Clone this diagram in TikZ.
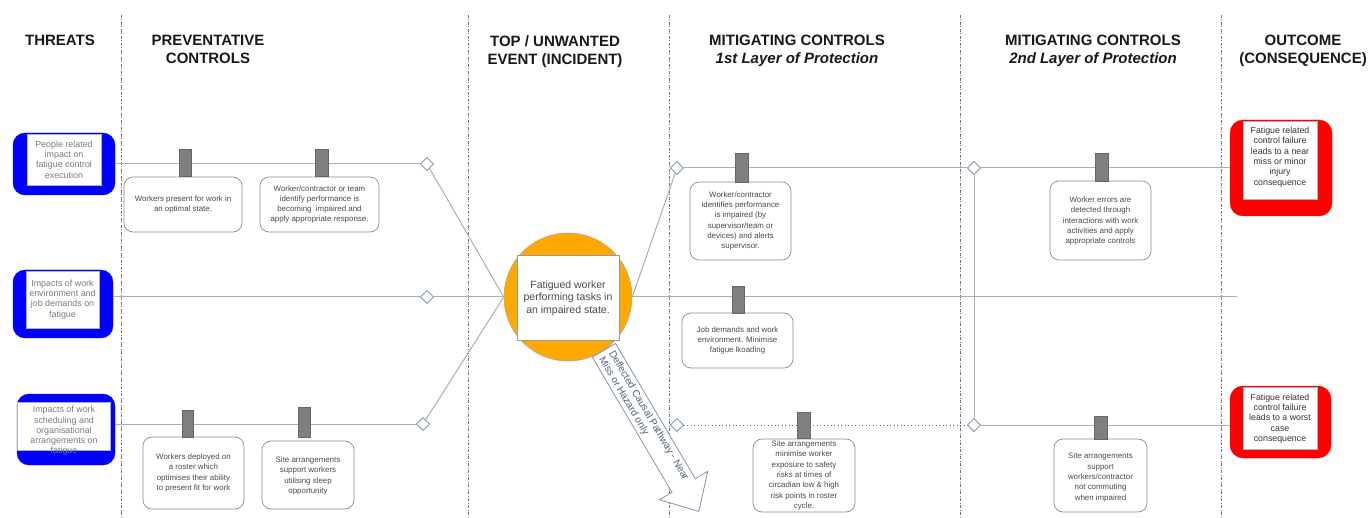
\documentclass[tikz,border=0pt]{standalone}
\usepackage{fontspec}
\setmainfont{Liberation Sans}
\usetikzlibrary{shapes.geometric}
\definecolor{lineg}{HTML}{AEAEAE}
\definecolor{tabg}{HTML}{7F7F7F}
\definecolor{orng}{HTML}{FFA800}
\definecolor{dmdc}{HTML}{8A9AB0}
\definecolor{txtg}{HTML}{4A4A4A}
\definecolor{thrt}{HTML}{7A7A7A}
\definecolor{arrc}{HTML}{8494AC}
\definecolor{arrt}{HTML}{50607A}
\begin{document}
\begin{tikzpicture}[x=1pt,y=-1pt,
  hdr/.style={font=\fontsize{15}{18}\selectfont\bfseries, align=center, inner sep=0, anchor=north, text=black!90},
  divider/.style={draw=black!55, line width=0.9pt, dash pattern=on 3pt off 1.5pt on 1pt off 1.5pt},
  conn/.style={draw=lineg, line width=1pt},
  dotconn/.style={draw=black!60, line width=0.9pt, dash pattern=on 1pt off 2.5pt},
  ctrl/.style={draw=black!45, rounded corners=9pt, fill=white, line width=0.7pt, inner sep=0},
  ctxt/.style={align=center, font=\fontsize{7.9}{10.3}\selectfont, text=txtg, inner sep=0},
  tabbox/.style={fill=tabg, draw=tabg!80!black, line width=0.3pt, inner sep=0},
  dmd/.style={diamond, draw=dmdc, fill=white, minimum size=13pt, inner sep=0, line width=0.7pt},
  threatbox/.style={fill=blue, draw=blue, rounded corners=12pt, inner sep=0},
  outbox/.style={fill=red, draw=red, rounded corners=13pt, inner sep=0},
  innerw/.style={fill=white, draw=black!30, line width=0.4pt, inner sep=0},
  ttxt/.style={align=center, font=\fontsize{8.9}{10.3}\selectfont, text=thrt, inner sep=0},
  otxt/.style={align=center, font=\fontsize{8.8}{10.3}\selectfont, text=black!80, inner sep=0}
]
\useasboundingbox (0,0) rectangle (1370,518);

% dividers
\foreach \x in {121,468,669,960,1221}{\draw[divider] (\x,15) -- (\x,518);}

% headers
\node[hdr] (h1) at (60,35) {THREATS};
\node[hdr] (h2) at (208,35) {PREVENTATIVE\\CONTROLS};
\node[hdr] (h3) at (555,35) {TOP / UNWANTED\\EVENT (INCIDENT)};
\node[hdr] (h4) at (797,35) {MITIGATING CONTROLS\\\textit{1st Layer of Protection}};
\node[hdr] (h5) at (1093,35) {MITIGATING CONTROLS\\\textit{2nd Layer of Protection}};
\node[hdr] (h6) at (1303,35) {OUTCOME\\(CONSEQUENCE)};

% threat boxes
\node[threatbox, minimum width=102pt, minimum height=62pt] (T1) at (64,164) {};
\node[innerw, minimum width=74pt, minimum height=51pt] (T1i) at (64,159.5) {};
\node[ttxt] (T1t) at (64,159.5) {People related\\impact on\\fatigue control\\execution};
\node[threatbox, minimum width=100pt, minimum height=68pt] (T2) at (63,304) {};
\node[innerw, minimum width=73pt, minimum height=57pt] (T2i) at (62.5,299.5) {};
\node[ttxt] (T2t) at (62.5,299.5) {Impacts of work\\environment and\\job demands on\\fatigue};
\node[threatbox, minimum width=98pt, minimum height=71pt] (T3) at (66,429.5) {};
\node[innerw, minimum width=93pt, minimum height=48pt] (T3i) at (63.5,426) {};
\node[ttxt] (T3t) at (64,431) {Impacts of work\\scheduling and\\organisational\\arrangements on\\fatigue};

% outcome boxes
\node[outbox, minimum width=102pt, minimum height=96pt] (O1) at (1281,168) {};
\node[innerw, minimum width=74pt, minimum height=78pt] (O1i) at (1280,160) {};
\node[otxt] (O1t) at (1280,157) {Fatigue related\\control failure\\leads to a near\\miss or minor\\injury\\consequence};
\node[outbox, minimum width=101pt, minimum height=72pt] (O2) at (1280.5,422) {};
\node[innerw, minimum width=74pt, minimum height=62pt] (O2i) at (1280,418) {};
\node[otxt] (O2t) at (1280,418.5) {Fatigue related\\control failure\\leads to a worst\\case\\consequence};

% diamonds
\node[dmd] (D1L) at (427,164) {};
\node[dmd] (D2L) at (427,297) {};
\node[dmd] (D3L) at (423,424) {};
\node[dmd] (D1R) at (677,168) {};
\node[dmd] (D3R) at (677,425) {};
\node[dmd] (D1RR) at (974,168) {};
\node[dmd] (D3RR) at (974,425) {};

% central circle
\node[circle, fill=orng, draw=black!35, line width=0.5pt, minimum size=128pt, inner sep=0] (C) at (568,297) {};
\coordinate (E2) at (1237,297);

% connectors
\draw[conn] (T1.east) -- (D1L);
\draw[conn] (T2.east |- D2L) -- (D2L);
\draw[conn] (T3.east |- D3L) -- (D3L);
\draw[conn] (D1L) -- (C.west);
\draw[conn] (D2L) -- (C.west);
\draw[conn] (D3L) -- (C.west);
\draw[conn] (C.east) -- (D1R);
\draw[conn] (C.east) -- (E2);
\draw[conn] (D1R) -- (D1RR);
\draw[conn] (D1RR) -- (D1RR -| O1.west);
\draw[conn] (D1RR) -- (D3RR);
\draw[dotconn] (D3R) -- (D3RR);
\draw[conn] (D3RR) -- (D3RR -| O2.west);

% redraw diamonds on top
\foreach \d in {D1L,D2L,D3L,D1R,D3R,D1RR,D3RR}{\node[dmd] at (\d) {};}

% circle inner square and text
\node[innerw, draw=black!40, minimum width=102pt, minimum height=85pt] (Cs) at (568,297.5) {};
\node[align=center, font=\fontsize{10.5}{12.5}\selectfont, text=txtg, inner sep=0] (Ct) at (568,298) {Fatigued worker\\performing tasks in\\an impaired state.};

% control boxes
\node[ctrl, minimum width=118pt, minimum height=55pt] (B1) at (183,204.5) {};
\node[ctxt] (B1t) at (B1) {Workers present for work in\\an optimal state.};
\node[tabbox, minimum width=12pt, minimum height=27pt] (K1) at (185,162.5) {};

\node[ctrl, minimum width=119pt, minimum height=55pt] (B2) at (319.5,204.5) {};
\node[ctxt] (B2t) at (B2) {Worker/contractor or team\\identify performance is\\becoming\ \ impaired and\\apply appropriate response.};
\node[tabbox, minimum width=13pt, minimum height=27pt] (K2) at (321.5,162.5) {};

\node[ctrl, minimum width=101pt, minimum height=72pt] (B3) at (193.5,473) {};
\node[ctxt] (B3t) at (B3) {Workers deployed on\\a roster which\\optimises their ability\\to present fit for work};
\node[tabbox, minimum width=11pt, minimum height=27pt] (K3) at (188,423.5) {};

\node[ctrl, minimum width=92pt, minimum height=68pt] (B4) at (308,475) {};
\node[ctxt] (B4t) at (308,476) {Site arrangements\\support workers\\utilising sleep\\opportunity};
\node[tabbox, minimum width=12pt, minimum height=30pt] (K4) at (304,422) {};

\node[ctrl, minimum width=101pt, minimum height=78pt] (B5) at (740.5,221) {};
\node[ctxt] (B5t) at (B5) {Worker/contractor\\identifies performance\\is impaired (by\\supervisor/team or\\devices) and alerts\\supervisor.};
\node[tabbox, minimum width=13pt, minimum height=29pt] (K5) at (741.5,167.5) {};

\node[ctrl, minimum width=111pt, minimum height=55pt] (B6) at (737.5,340.5) {};
\node[ctxt] (B6t) at (B6) {Job demands and work\\environment. Minimise\\fatigue lkoading};
\node[tabbox, minimum width=12pt, minimum height=27pt] (K6) at (738,299.5) {};

\node[ctrl, minimum width=102pt, minimum height=73pt] (B7) at (804,475.5) {};
\node[ctxt] (B7t) at (B7) {Site arrangements\\minimise worker\\exposure to safety\\risks at times of\\circadian low \& high\\risk points in roster\\cycle.};
\node[tabbox, minimum width=13pt, minimum height=26pt] (K7) at (803.5,425) {};

\node[ctrl, minimum width=101pt, minimum height=79pt] (B8) at (1100.5,220.5) {};
\node[ctxt] (B8t) at (1100.5,221) {Worker errors are\\detected through\\interactions with work\\activities and apply\\appropriate controls};
\node[tabbox, minimum width=13pt, minimum height=28pt] (K8) at (1101.5,167) {};

\node[ctrl, minimum width=93pt, minimum height=73pt] (B9) at (1100.5,475.5) {};
\node[ctxt] (B9t) at (1100.5,477.5) {Site arrangements\\support\\workers/contractor\\not commuting\\when impaired};
\node[tabbox, minimum width=13pt, minimum height=23pt] (K9) at (1100.5,427.5) {};

% deflected causal pathway arrow
\begin{scope}[shift={(C.-56)}, rotate=-59.5]
  \draw[draw=arrc, fill=white, line width=0.8pt]
    (0,13.5) -- (157,13.5) -- (157,28) -- (187,0) -- (157,-28) -- (157,-13.5) -- (0,-13.5) -- cycle;
  \node[anchor=west, transform shape, align=left, inner sep=0,
        font=\fontsize{10}{11.5}\selectfont, text=arrt] (DA) at (5,0.5)
        {Deflected Causal Pathway - Near\\Miss or Hazard only};
\end{scope}
\end{tikzpicture}
\end{document}
